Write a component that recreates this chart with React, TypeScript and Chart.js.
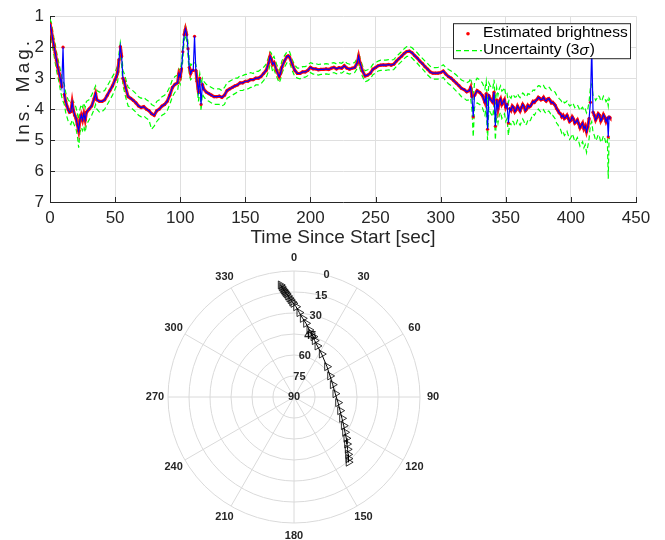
import React, { useEffect, useRef } from "react";
import { Chart, registerables } from "chart.js";
Chart.register(...registerables);

const FONT = '"Liberation Sans", Arial, Helvetica, sans-serif';
const TXT = "#262626";
const GRID = "#dfdfdf";

// ---------- top chart data, part 1 (time [s], magnitude, 3-sigma bounds) ----------
const timeSec = [
  0, 1, 2, 3, 4, 5, 6, 7, 8, 9,
  10, 11, 12, 13, 14, 15, 16, 17, 18, 19,
  20, 21, 22, 23, 24, 25, 26, 27, 28, 30,
  32, 34, 35, 36, 38, 40, 42, 44, 46, 48,
  50, 51, 52, 53, 54, 55, 56, 57, 58, 60,
  62, 64, 66, 68, 70, 72, 74, 76, 78, 80,
  82, 84, 86, 88, 90, 92, 94, 96, 98, 99,
  100, 101, 102, 103, 104, 105, 106, 107, 108, 109,
  110, 111, 112, 113, 114, 115, 116, 117, 118, 120,
  122, 124, 126, 128, 130, 132, 134, 136, 138, 140,
  142, 144, 146, 148, 150, 152, 154, 156, 158, 160,
  162, 164, 166, 168, 169, 170, 171, 172, 174, 176,
  177, 178, 180, 182, 183, 184, 186, 188, 190, 192,
  194, 196, 198, 200, 202, 204, 206, 208, 210, 212,
  214, 216, 218, 220, 222, 224, 226, 228, 230, 232,
  234, 236, 237, 238, 240, 242, 244, 246, 248, 250,
  252, 254, 256, 258, 260, 262, 264, 266, 268, 270,
  272, 274, 276, 278, 280, 282, 284, 286, 288, 290,
  292, 294, 296, 298, 300, 302, 304, 306, 308, 310,
  312, 314, 316, 318, 320, 322, 323, 324, 325, 326,
  328, 330, 332, 334, 335, 336, 337, 338, 340,
];

const magEst = [
  1.25, 1.45, 1.72, 1.95, 2.18, 2.42, 2.65, 2.85, 3.05, 3.28,
  2.0, 3.52, 3.75, 3.9, 4.02, 4.1, 4.08, 3.78, 4.05, 4.2,
  4.3, 4.5, 4.7, 4.35, 4.2, 4.35, 4.15, 4.35, 4.1, 4.0,
  3.9, 3.65, 3.5, 3.7, 3.75, 3.75, 3.7, 3.55, 3.4, 3.25,
  3.05, 2.95, 2.8, 2.4, 1.98, 2.3, 3.0, 3.1, 3.3, 3.6,
  3.65, 3.72, 3.8, 3.9, 3.95, 3.92, 4.0, 4.05, 4.15, 4.2,
  4.05, 4.0, 3.9, 3.85, 3.75, 3.55, 3.3, 3.2, 3.15, 2.85,
  2.95, 2.7, 2.15, 1.6, 1.42, 1.6, 2.05, 2.65, 2.85, 2.75,
  2.75, 1.65, 2.75, 3.1, 3.45, 3.0, 3.85, 3.2, 3.35, 3.45,
  3.5, 3.55, 3.6, 3.6, 3.58, 3.62, 3.55, 3.4, 3.35, 3.3,
  3.25, 3.22, 3.15, 3.15, 3.1, 3.1, 3.05, 3.05, 3.0, 3.0,
  2.95, 2.85, 2.75, 2.5, 2.3, 2.4, 2.55, 2.5, 2.75, 2.95,
  2.85, 2.65, 2.45, 2.3, 2.28, 2.32, 2.55, 2.75, 2.85, 2.85,
  2.8, 2.8, 2.75, 2.65, 2.7, 2.7, 2.73, 2.72, 2.72, 2.7,
  2.72, 2.68, 2.65, 2.7, 2.66, 2.68, 2.6, 2.68, 2.71, 2.68,
  2.66, 2.5, 2.3, 2.5, 2.77, 2.93, 2.9, 2.84, 2.71, 2.66,
  2.6, 2.58, 2.57, 2.58, 2.56, 2.58, 2.55, 2.45, 2.37, 2.29,
  2.2, 2.14, 2.13, 2.18, 2.27, 2.35, 2.45, 2.53, 2.63, 2.71,
  2.8, 2.84, 2.84, 2.84, 2.82, 2.77, 2.87, 2.95, 3.0, 3.08,
  3.16, 3.24, 3.33, 3.37, 3.44, 3.4, 3.3, 3.6, 4.25, 3.56,
  3.4, 3.46, 3.56, 3.78, 3.5, 4.65, 3.56, 3.67, 3.78,
];

const magUpper = [
  1.1, 1.2, 1.45, 1.7, 1.9, 2.15, 2.35, 2.55, 2.75, 2.95,
  3.1, 3.2, 3.45, 3.6, 3.7, 3.75, 3.78, 3.7, 3.75, 3.85,
  3.95, 4.15, 4.35, 4.0, 3.85, 3.95, 3.8, 3.95, 3.75, 3.7,
  3.55, 3.35, 3.25, 3.4, 3.45, 3.45, 3.4, 3.25, 3.1, 2.95,
  2.8, 2.7, 2.6, 2.2, 1.85, 2.1, 2.75, 2.85, 3.0, 3.3,
  3.35, 3.42, 3.5, 3.6, 3.65, 3.62, 3.7, 3.75, 3.85, 3.9,
  3.75, 3.7, 3.6, 3.55, 3.45, 3.28, 3.05, 2.95, 2.9, 2.7,
  2.75, 2.5, 1.95, 1.45, 1.3, 1.45, 1.85, 2.45, 2.6, 2.55,
  2.55, 2.5, 2.55, 2.85, 3.1, 2.85, 3.2, 3.0, 3.1, 3.2,
  3.25, 3.3, 3.35, 3.35, 3.35, 3.4, 3.3, 3.15, 3.1, 3.05,
  3.0, 3.0, 2.92, 2.92, 2.88, 2.88, 2.82, 2.85, 2.78, 2.78,
  2.72, 2.65, 2.55, 2.3, 2.15, 2.2, 2.35, 2.3, 2.55, 2.75,
  2.65, 2.45, 2.28, 2.15, 2.12, 2.15, 2.4, 2.58, 2.68, 2.68,
  2.63, 2.63, 2.58, 2.5, 2.53, 2.53, 2.56, 2.55, 2.55, 2.53,
  2.55, 2.52, 2.5, 2.54, 2.5, 2.52, 2.45, 2.52, 2.55, 2.52,
  2.5, 2.35, 2.15, 2.35, 2.6, 2.76, 2.73, 2.68, 2.55, 2.5,
  2.45, 2.42, 2.42, 2.42, 2.4, 2.42, 2.4, 2.3, 2.22, 2.14,
  2.05, 1.98, 1.97, 2.02, 2.1, 2.18, 2.28, 2.36, 2.45, 2.53,
  2.62, 2.66, 2.66, 2.65, 2.62, 2.57, 2.66, 2.72, 2.77, 2.83,
  2.9, 2.98, 3.06, 3.1, 3.15, 3.1, 3.0, 3.2, 3.7, 3.15,
  3.0, 3.05, 3.15, 3.35, 3.1, 3.9, 3.15, 3.25, 3.35,
];

const magLower = [
  1.45, 1.7, 2.0, 2.25, 2.5, 2.75, 2.95, 3.15, 3.4, 3.6,
  3.75, 3.85, 4.1, 4.25, 4.4, 4.45, 4.5, 4.35, 4.45, 4.55,
  4.65, 4.85, 5.25, 4.75, 4.6, 4.7, 4.55, 4.75, 4.5, 4.35,
  4.2, 4.0, 3.85, 4.0, 4.1, 4.08, 4.0, 3.85, 3.7, 3.55,
  3.35, 3.25, 3.1, 2.7, 2.2, 2.55, 3.25, 3.4, 3.6, 3.9,
  3.95, 4.02, 4.1, 4.2, 4.25, 4.22, 4.3, 4.35, 4.65, 4.55,
  4.4, 4.3, 4.2, 4.15, 4.05, 3.85, 3.6, 3.45, 3.4, 3.1,
  3.2, 2.95, 2.4, 1.8, 1.6, 1.8, 2.3, 2.9, 3.05, 3.0,
  3.0, 3.0, 3.0, 3.35, 3.75, 3.3, 4.05, 3.5, 3.6, 3.7,
  3.75, 3.8, 3.85, 3.85, 3.85, 3.9, 3.85, 3.65, 3.6, 3.55,
  3.5, 3.45, 3.4, 3.4, 3.35, 3.35, 3.3, 3.3, 3.22, 3.22,
  3.18, 3.08, 2.98, 2.75, 2.55, 2.6, 2.8, 2.72, 2.95, 3.15,
  3.05, 2.85, 2.65, 2.5, 2.48, 2.5, 2.75, 2.95, 3.0, 3.02,
  2.98, 2.97, 2.92, 2.82, 2.87, 2.87, 2.9, 2.88, 2.88, 2.86,
  2.88, 2.85, 2.82, 2.86, 2.82, 2.84, 2.77, 2.84, 2.87, 2.84,
  2.82, 2.68, 2.5, 2.7, 2.95, 3.12, 3.08, 3.02, 2.89, 2.83,
  2.77, 2.75, 2.74, 2.75, 2.73, 2.75, 2.72, 2.62, 2.54, 2.46,
  2.37, 2.3, 2.3, 2.35, 2.44, 2.52, 2.62, 2.7, 2.8, 2.9,
  2.98, 3.03, 3.03, 3.03, 3.02, 2.98, 3.1, 3.18, 3.24, 3.33,
  3.42, 3.5, 3.6, 3.65, 3.72, 3.7, 3.65, 4.0, 4.9, 3.95,
  3.8, 3.85, 3.95, 4.2, 3.9, 5.0, 3.95, 4.1, 4.25,
];

// ---------- top chart data, part 2 (noisy tail, 1 s spacing) ----------
const timeLate = [
  341, 342, 343, 344, 345, 346, 347, 348, 349, 350,
  351, 352, 353, 354, 355, 356, 357, 358, 359, 360,
  361, 362, 363, 364, 365, 366, 367, 368, 369, 370,
  371, 372, 373, 374, 375, 376, 377, 378, 379, 380,
  381, 382, 383, 384, 385, 386, 387, 388, 389, 390,
  391, 392, 393, 394, 395, 396, 397, 398, 399, 400,
  401, 402, 403, 404, 405, 406, 407, 408, 409, 410,
  411, 412, 413, 414, 415, 416, 417, 418, 419, 420,
  421, 422, 423, 424, 425, 426, 427, 428, 428.7, 429.3, 430,
];
const magLate = [
  3.45, 4.55, 3.7, 3.99, 3.75, 3.67, 3.85, 3.78, 3.7, 3.94,
  3.85, 4.45, 3.98, 4.04, 3.9, 3.95, 4.08, 4.02, 3.9, 3.98,
  4.06, 3.95, 3.85, 3.92, 4.05, 4.0, 3.88, 3.93, 3.9, 3.83,
  3.75, 3.78, 3.72, 3.69, 3.62, 3.65, 3.7, 3.68, 3.62, 3.7,
  3.74, 3.68, 3.66, 3.72, 3.8, 3.78, 3.83, 3.88, 3.98, 4.04,
  4.12, 4.15, 4.25, 4.2, 4.3, 4.26, 4.2, 4.3, 4.4, 4.36,
  4.25, 4.32, 4.45, 4.41, 4.35, 4.47, 4.6, 4.52, 4.45, 4.63,
  4.55, 4.73, 4.57, 4.3, 3.78, 2.0, 4.1, 4.2, 4.35, 4.26,
  4.15, 4.2, 4.38, 4.3, 4.18, 4.26, 4.4, 4.3, 4.9, 4.25, 4.28,
];
const upperLate = [
  3.05, 3.85, 3.3, 3.55, 3.35, 3.25, 3.42, 3.38, 3.3, 3.55,
  3.5, 3.8, 3.6, 3.65, 3.52, 3.55, 3.62, 3.6, 3.5, 3.58,
  3.63, 3.55, 3.48, 3.52, 3.6, 3.6, 3.5, 3.52, 3.5, 3.45,
  3.38, 3.4, 3.34, 3.3, 3.24, 3.25, 3.3, 3.28, 3.24, 3.32,
  3.34, 3.3, 3.28, 3.33, 3.4, 3.38, 3.42, 3.46, 3.55, 3.6,
  3.66, 3.7, 3.76, 3.72, 3.8, 3.78, 3.74, 3.82, 3.9, 3.88,
  3.8, 3.85, 3.95, 3.9, 3.86, 3.95, 4.05, 3.98, 3.94, 4.05,
  4.0, 4.12, 4.0, 3.75, 3.3, 3.2, 3.55, 3.6, 3.72, 3.65,
  3.56, 3.6, 3.75, 3.7, 3.58, 3.65, 3.76, 3.7, 3.9, 3.65, 3.7,
];
const lowerLate = [
  3.85, 5.0, 4.15, 4.45, 4.2, 4.1, 4.3, 4.22, 4.15, 4.4,
  4.3, 4.85, 4.45, 4.5, 4.38, 4.42, 4.55, 4.48, 4.36, 4.45,
  4.52, 4.42, 4.32, 4.4, 4.52, 4.48, 4.35, 4.4, 4.36, 4.25,
  4.16, 4.2, 4.12, 4.08, 4.0, 4.05, 4.1, 4.08, 4.02, 4.1,
  4.14, 4.08, 4.06, 4.12, 4.22, 4.2, 4.26, 4.32, 4.45, 4.5,
  4.6, 4.65, 4.78, 4.72, 4.85, 4.8, 4.72, 4.85, 4.98, 4.92,
  4.8, 4.9, 5.05, 5.0, 4.92, 5.05, 5.2, 5.12, 5.05, 5.25,
  5.15, 5.4, 5.2, 4.95, 4.5, 4.4, 4.75, 4.85, 5.02, 4.95,
  4.82, 4.9, 5.08, 5.0, 4.86, 4.95, 5.12, 5.0, 6.25, 4.95, 4.95,
];

const xTickValues = [0, 50, 100, 150, 200, 250, 300, 350, 400, 450];
const yTickValues = [1, 2, 3, 4, 5, 6, 7];
const xTitle = "Time Since Start [sec]";
const yTitle = "Ins. Mag.";
const legendEst = "Estimated brightness";
const legendUncPre = "Uncertainty (3";
const legendUncSym = "\u03C3";
const legendUncPost = ")";

// ---------- polar chart data (azimuth, elevation in degrees) ----------
const azDeg = [
  353.2, 353.6, 354.0, 354.5, 354.95, 355.4, 355.9, 356.6, 357.3, 358.0,
  358.8, 359.6, 1.3, 3.6, 6.3, 9.25, 12.9, 14.7, 17.8, 20.1,
  24.6, 32.8, 47.4, 59.7, 72.3, 85.4, 97.3, 106.5, 114.0, 120.0,
  124.7, 128.3, 131.6, 134.3, 136.7, 138.6, 140.1,
];
const elDeg = [
  9.4, 10.7, 12.0, 13.2, 14.2, 15.2, 16.2, 17.7, 19.2, 20.4,
  21.9, 23.1, 25.5, 29.6, 33.5, 36.7, 40.9, 43.0, 44.75, 47.1,
  49.9, 53.5, 58.0, 60.2, 61.0, 60.4, 58.3, 55.7, 52.5, 49.0,
  45.7, 42.4, 39.4, 36.5, 33.7, 31.3, 29.3,
];
const azTickLabels = [0, 30, 60, 90, 120, 150, 180, 210, 240, 270, 300, 330];
const elRingLabels = [0, 15, 30, 45, 60, 75, 90];
const elLabelAzimuth = 15;

// ---------- plugins ----------
const topDecor = {
  id: "topDecor",
  afterDraw(chart: any) {
    const { ctx, chartArea: a, scales } = chart;
    ctx.save();
    ctx.strokeStyle = TXT;
    ctx.lineWidth = 1;
    xTickValues.forEach((v) => {
      const px = Math.round(scales.x.getPixelForValue(v)) + 0.5;
      ctx.beginPath();
      ctx.moveTo(px, a.bottom);
      ctx.lineTo(px, a.bottom - 5);
      ctx.stroke();
    });
    yTickValues.forEach((v) => {
      const py = Math.round(scales.y.getPixelForValue(v)) + 0.5;
      ctx.beginPath();
      ctx.moveTo(a.left, py);
      ctx.lineTo(a.left + 5, py);
      ctx.stroke();
    });
    ctx.fillStyle = TXT;
    ctx.font = `19px ${FONT}`;
    ctx.textAlign = "center";
    ctx.textBaseline = "middle";
    ctx.fillText(xTitle, (a.left + a.right) / 2, 238);
    ctx.translate(24, 92);
    ctx.rotate(-Math.PI / 2);
    try {
      (ctx as any).letterSpacing = "3px";
    } catch (e) {}
    ctx.fillText(yTitle, 1.5, 0);
    try {
      (ctx as any).letterSpacing = "0px";
    } catch (e) {}
    ctx.restore();

    ctx.save();
    const bx = a.right - 183, by = a.top + 7, bw = 177, bh = 35;
    ctx.fillStyle = "#ffffff";
    ctx.fillRect(bx, by, bw, bh);
    ctx.strokeStyle = TXT;
    ctx.lineWidth = 1;
    ctx.strokeRect(bx + 0.5, by + 0.5, bw, bh);
    ctx.fillStyle = "#ff0000";
    ctx.beginPath();
    ctx.arc(bx + 15, by + 10.5, 1.8, 0, Math.PI * 2);
    ctx.fill();
    ctx.strokeStyle = "#00ff00";
    ctx.lineWidth = 1.2;
    ctx.setLineDash([5, 3]);
    ctx.beginPath();
    ctx.moveTo(bx + 3, by + 27.5);
    ctx.lineTo(bx + 29, by + 27.5);
    ctx.stroke();
    ctx.setLineDash([]);
    ctx.fillStyle = "#000000";
    ctx.textAlign = "left";
    ctx.textBaseline = "middle";
    ctx.font = `15.5px ${FONT}`;
    const tx = bx + 30;
    ctx.fillText(legendEst, tx, by + 10);
    ctx.fillText(legendUncPre, tx, by + 27);
    let w = ctx.measureText(legendUncPre).width;
    ctx.font = `italic 15.5px ${FONT}`;
    ctx.fillText(legendUncSym, tx + w, by + 27);
    w += ctx.measureText(legendUncSym).width + 1;
    ctx.font = `15.5px ${FONT}`;
    ctx.fillText(legendUncPost, tx + w, by + 27);
    ctx.restore();
  },
};

const polarGrid = {
  id: "polarGrid",
  beforeDatasetsDraw(chart: any) {
    const { ctx, scales } = chart;
    const cx = scales.x.getPixelForValue(0);
    const cy = scales.y.getPixelForValue(0);
    const R = scales.x.getPixelForValue(90) - cx;
    ctx.save();
    ctx.strokeStyle = "#dadada";
    ctx.lineWidth = 1;
    elRingLabels.forEach((e) => {
      const r = ((90 - e) / 90) * R;
      if (r <= 0) return;
      ctx.beginPath();
      ctx.arc(cx, cy, r, 0, Math.PI * 2);
      ctx.stroke();
    });
    azTickLabels.forEach((az) => {
      const rad = (az * Math.PI) / 180;
      ctx.beginPath();
      ctx.moveTo(cx, cy);
      ctx.lineTo(cx + R * Math.sin(rad), cy - R * Math.cos(rad));
      ctx.stroke();
    });
    ctx.fillStyle = TXT;
    ctx.font = `bold 11px ${FONT}`;
    ctx.textAlign = "center";
    ctx.textBaseline = "middle";
    azTickLabels.forEach((az) => {
      const rad = (az * Math.PI) / 180;
      const rr = R + 13;
      ctx.fillText(String(az), cx + rr * Math.sin(rad), cy - rr * Math.cos(rad));
    });
    const lr = (elLabelAzimuth * Math.PI) / 180;
    elRingLabels.forEach((e) => {
      const r = ((90 - e) / 90) * R;
      ctx.fillText(String(e), cx + r * Math.sin(lr), cy - r * Math.cos(lr));
    });
    ctx.restore();
  },
};

export default function App() {
  const topRef = useRef<HTMLCanvasElement | null>(null);
  const polRef = useRef<HTMLCanvasElement | null>(null);

  useEffect(() => {
    const allT = timeSec.concat(timeLate);
    const pts = (ys: number[]) => allT.map((t, i) => ({ x: t, y: ys[i] }));
    const est = magEst.concat(magLate);
    const upp = magUpper.concat(upperLate);
    const low = magLower.concat(lowerLate);
    const tickFont = { family: FONT, size: 17 };
    const top = new Chart(topRef.current as HTMLCanvasElement, {
      type: "scatter",
      data: {
        datasets: [
          {
            label: "trace",
            data: pts(est),
            showLine: true,
            borderColor: "#0000ff",
            borderWidth: 1.2,
            pointRadius: 0,
          },
          {
            label: legendEst,
            data: pts(est),
            showLine: true,
            borderColor: "#ff1a1a",
            borderWidth: 3.2,
            segment: {
              borderColor: (c: any) =>
                Math.abs(c.p1.parsed.y - c.p0.parsed.y) > 0.4 ? "rgba(0,0,0,0)" : undefined,
            },
            pointRadius: 1.6,
            pointBackgroundColor: "#ff0000",
            pointBorderWidth: 0,
          },
          {
            label: "Uncertainty (3\u03C3)",
            data: pts(upp),
            showLine: true,
            borderColor: "#00ff00",
            borderWidth: 1.2,
            borderDash: [5, 3],
            pointRadius: 0,
          },
          {
            label: "Uncertainty lower",
            data: pts(low),
            showLine: true,
            borderColor: "#00ff00",
            borderWidth: 1.2,
            borderDash: [5, 3],
            pointRadius: 0,
          },
        ],
      } as any,
      options: {
        animation: false,
        responsive: false,
        devicePixelRatio: 1,
        layout: { padding: { left: 0, right: 29, top: 13, bottom: 0 } },
        plugins: { legend: { display: false }, tooltip: { enabled: false } },
        scales: {
          x: {
            type: "linear",
            min: 0,
            max: 450,
            afterBuildTicks: (s: any) => {
              s.ticks = xTickValues.map((v) => ({ value: v }));
            },
            afterFit: (s: any) => {
              s.height = 48;
            },
            grid: { color: GRID, drawTicks: false },
            border: { color: TXT, width: 1 },
            ticks: { color: TXT, font: tickFont, padding: 6, maxRotation: 0 },
          },
          y: {
            type: "linear",
            reverse: true,
            min: 1,
            max: 7,
            afterBuildTicks: (s: any) => {
              s.ticks = yTickValues.map((v) => ({ value: v }));
            },
            afterFit: (s: any) => {
              s.width = 50;
            },
            grid: { color: GRID, drawTicks: false },
            border: { color: TXT, width: 1 },
            ticks: { color: TXT, font: tickFont, padding: 6 },
          },
        },
      } as any,
      plugins: [topDecor],
    });

    const polarPts = azDeg.map((az, i) => {
      const r = 90 - elDeg[i];
      const rad = (az * Math.PI) / 180;
      return { x: r * Math.sin(rad), y: r * Math.cos(rad) };
    });
    const pol = new Chart(polRef.current as HTMLCanvasElement, {
      type: "scatter",
      data: {
        datasets: [
          {
            label: "track",
            data: polarPts,
            showLine: true,
            borderColor: "#000000",
            borderWidth: 1,
            pointStyle: "triangle",
            pointRotation: 90,
            pointRadius: 4.6,
            pointBorderColor: "#000000",
            pointBackgroundColor: "rgba(255,255,255,0)",
            pointBorderWidth: 0.8,
            clip: false,
          },
        ],
      } as any,
      options: {
        animation: false,
        responsive: false,
        devicePixelRatio: 1,
        layout: { padding: { left: 168, right: 245, top: 21, bottom: 17 } },
        plugins: { legend: { display: false }, tooltip: { enabled: false } },
        scales: {
          x: { type: "linear", display: false, min: -90, max: 90 },
          y: { type: "linear", display: false, min: -90, max: 90 },
        },
      } as any,
      plugins: [polarGrid],
    });

    return () => {
      top.destroy();
      pol.destroy();
    };
  }, []);

  return (
    <div style={{ position: "absolute", left: 0, top: 0, width: 665, height: 540, background: "#ffffff" }}>
      <canvas ref={topRef} width={665} height={250} style={{ position: "absolute", left: 0, top: 0, width: 665, height: 250 }} />
      <canvas ref={polRef} width={665} height={290} style={{ position: "absolute", left: 0, top: 250, width: 665, height: 290 }} />
    </div>
  );
}
